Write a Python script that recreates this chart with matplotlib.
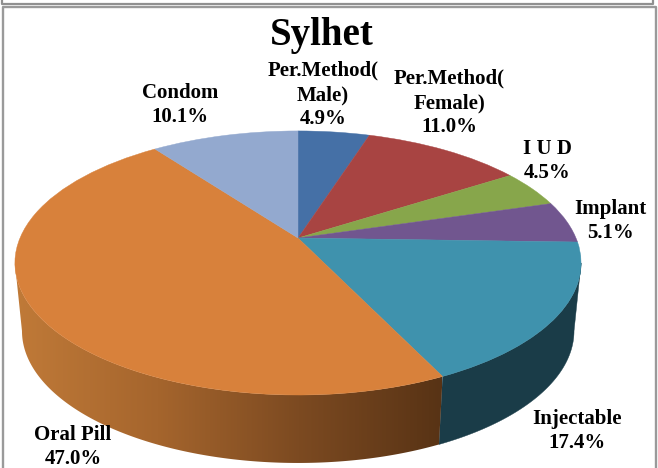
import numpy as np
import matplotlib
matplotlib.use("Agg")
import matplotlib.pyplot as plt
from matplotlib.colors import LinearSegmentedColormap
from matplotlib.patches import Polygon
from matplotlib.transforms import Transform

plt.rcParams["font.family"] = ["Liberation Serif", "DejaVu Serif"]

methods = ["Per.Method(\nMale)", "Per.Method(\nFemale)", "I U D", "Implant",
           "Injectable", "Oral Pill", "Condom"]
shares = [4.9, 11.0, 4.5, 5.1, 17.4, 47.0, 10.1]
colors = ["#4570A6", "#A84442", "#87A64B", "#71568F", "#3F92AD", "#D8813B", "#93A9CF"]

# label centres in pixels
label_pos = [(323, 95), (449, 103), (547, 161), (610, 221),
             (577, 431), (73, 447), (180, 105)]

APEX = (298, 238)
K = 0.189      # perspective of the pie top
A = 278
B = 127.3
DEPTH = 68
SHRINK = 0.975
# the tilted circle is widest here, clockwise from the top
SIDE_RIGHT = 100.9
SIDE_LEFT = 259.1


def project(x, y):
    w = 1 + K * y
    return APEX[0] + A * x / w, APEX[1] - B * y / w


class TiltTransform(Transform):
    input_dims = 2
    output_dims = 2

    def transform_non_affine(self, values):
        values = np.asarray(values)
        px, py = project(values[:, 0], values[:, 1])
        return np.column_stack([px, py])


def wall_outline(angle0, angle1):
    # angles clockwise from the top, in degrees
    t = np.radians(np.linspace(angle0, angle1, 200))
    tx, ty = project(np.sin(t), np.cos(t))
    bx = APEX[0] + (tx - APEX[0]) * SHRINK
    by = ty + DEPTH
    return np.column_stack([np.r_[tx, bx[::-1]], np.r_[ty, by[::-1]]])


fig = plt.figure(figsize=(6.58, 4.68), dpi=100, facecolor="white")
ax = fig.add_axes([0, 0, 1, 1])
ax.set_xlim(0, 658)
ax.set_ylim(468, 0)
ax.axis("off")

# frame of the slide
ax.plot([1.5, 1.5, 653, 653], [-5, 3.5, 3.5, -5], color="#909090", lw=1.6)
ax.plot([3, 3, 656, 656], [475, 7, 7, 475], color="#9a9a9a", lw=1.7)

edges = np.cumsum([0] + shares) * 3.6
inj = methods.index("Injectable")
oral = methods.index("Oral Pill")

# side wall, only the front of the disc can be seen
ax.add_patch(Polygon(wall_outline(SIDE_RIGHT, edges[inj + 1]), closed=True, color="#1A3C48", lw=0.3, zorder=1))

shade = LinearSegmentedColormap.from_list("wall", ["#C07A38", "#A5652D", "#7C4A21", "#583315"])
wall = Polygon(wall_outline(edges[oral], SIDE_LEFT), closed=True, fc="none", lw=0)
ax.add_patch(wall)
ax.imshow(np.linspace(0, 1, 256)[None, :], cmap=shade, extent=(15, 442, 470, 250),
          aspect="auto", clip_path=wall, zorder=1)

# top of the disc: a plain pie pushed through the tilt
wedges, _ = ax.pie(shares, colors=colors, startangle=90, counterclock=False,
                   radius=1, center=(0, 0), frame=False, normalize=True)
ax.set_aspect("auto")
ax.set_xlim(0, 658)
ax.set_ylim(468, 0)
tilt = TiltTransform() + ax.transData
for w in wedges:
    w.set_transform(tilt)
    w.set_zorder(2)
    w.set_edgecolor(w.get_facecolor())
    w.set_linewidth(0.3)

ax.text(322, 35, "Sylhet", ha="center", va="center", fontsize=28, fontweight="bold", color="black")
for name, share, (px, py) in zip(methods, shares, label_pos):
    ax.text(px, py, f"{name}\n{share:.1f}%", ha="center", va="center", fontsize=15,
            fontweight="bold", color="black", linespacing=1.3, zorder=3)

fig.savefig("out.png", dpi=100, facecolor="white")
